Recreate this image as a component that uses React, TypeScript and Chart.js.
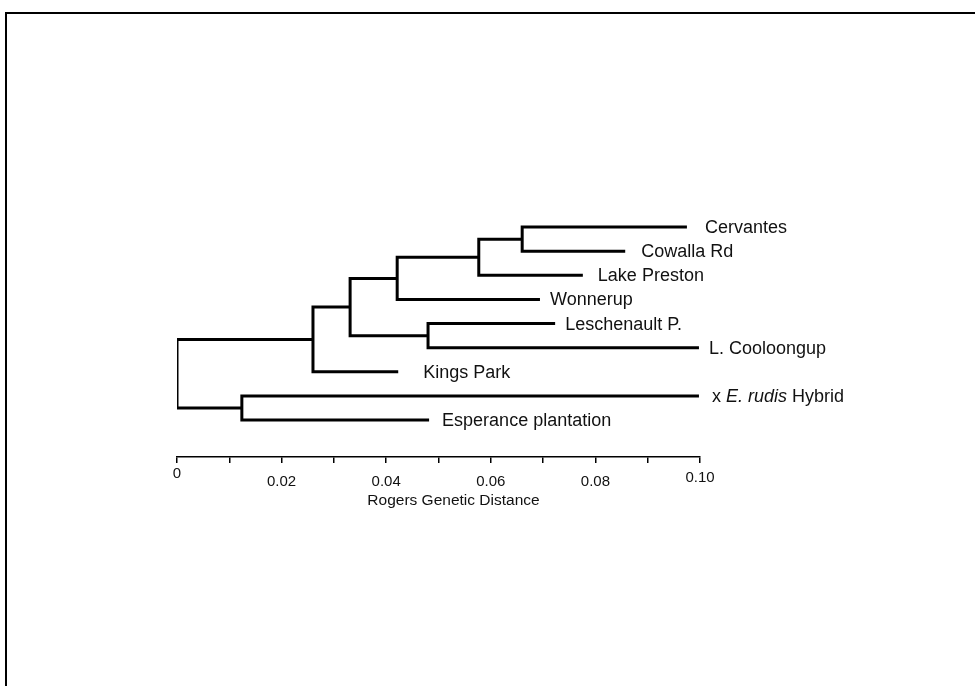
import React, { useEffect, useRef } from 'react';
import { Chart, registerables } from 'chart.js';

Chart.register(...registerables);

// ---- data ----
const leafNames = [
  'Cervantes',
  'Cowalla Rd',
  'Lake Preston',
  'Wonnerup',
  'Leschenault P.',
  'L. Cooloongup',
  'Kings Park',
  'x E. rudis Hybrid',
  'Esperance plantation',
];
const leafDistances = [0.0975, 0.0857, 0.0776, 0.0694, 0.0723, 0.0998, 0.0423, 0.0998, 0.0482];
// internal nodes (index 9 onward), each joining two earlier nodes
const mergeLeft = [0, 9, 10, 4, 11, 13, 7, 14];
const mergeRight = [1, 2, 3, 5, 12, 6, 8, 15];
const mergeDistances = [0.066, 0.0577, 0.0421, 0.048, 0.0331, 0.026, 0.0124, 0];
const tickValues = [0, 0.01, 0.02, 0.03, 0.04, 0.05, 0.06, 0.07, 0.08, 0.09, 0.1];
const tickLabels = ['0', '', '0.02', '', '0.04', '', '0.06', '', '0.08', '', '0.10'];
const axisTitle = 'Rogers Genetic Distance';
const italicPhrase = 'E. rudis';

// ---- styles ----
const FONT = '"Liberation Sans", Arial, Helvetica, sans-serif';
const labelGaps = [18, 16, 15, 10, 10, 10, 25, 13, 13];
const tickLineHeights = [0.2, 1.2, 1.2, 1.2, 1.2, 1.2, 1.2, 1.2, 1.2, 1.2, 0.67];

function buildDatasets() {
  const nodeX: number[] = [...leafDistances];
  const nodeY: number[] = leafNames.map((_, i) => i);
  const datasets: any[] = [];
  mergeLeft.forEach((a, k) => {
    const b = mergeRight[k];
    const d = mergeDistances[k];
    datasets.push({
      data: [
        { x: nodeX[a], y: nodeY[a] },
        { x: d, y: nodeY[a] },
        { x: d, y: nodeY[b] },
        { x: nodeX[b], y: nodeY[b] },
      ],
      showLine: true,
      borderColor: '#000',
      borderWidth: 3,
      pointRadius: 0,
      pointHoverRadius: 0,
      tension: 0,
      fill: false,
      borderJoinStyle: 'miter',
      borderCapStyle: 'butt',
    });
    nodeX.push(d);
    nodeY.push((nodeY[a] + nodeY[b]) / 2);
  });
  return datasets;
}

const labelPlugin = {
  id: 'leafLabels',
  afterDatasetsDraw(chart: any) {
    const { ctx, chartArea } = chart;
    const x = chart.scales.x;
    const y = chart.scales.y;
    ctx.save();
    ctx.fillStyle = '#111';
    ctx.textBaseline = 'middle';
    ctx.textAlign = 'left';
    leafNames.forEach((name, i) => {
      let px = x.getPixelForValue(leafDistances[i]) + labelGaps[i];
      const py = y.getPixelForValue(i) + 1;
      const idx = name.indexOf(italicPhrase);
      const parts: [string, boolean][] =
        idx >= 0
          ? [
              [name.slice(0, idx), false],
              [italicPhrase, true],
              [name.slice(idx + italicPhrase.length), false],
            ]
          : [[name, false]];
      parts.forEach(([t, it]) => {
        ctx.font = `${it ? 'italic ' : ''}18px ${FONT}`;
        ctx.fillText(t, px, py);
        px += ctx.measureText(t).width;
      });
    });
    ctx.font = `15.5px ${FONT}`;
    ctx.textAlign = 'center';
    ctx.fillText(axisTitle, (chartArea.left + chartArea.right) / 2 + 15, chartArea.bottom + 44);
    ctx.restore();
  },
};

export default function App() {
  const canvasRef = useRef<HTMLCanvasElement | null>(null);

  useEffect(() => {
    if (!canvasRef.current) return;
    const chart = new Chart(canvasRef.current, {
      type: 'scatter',
      data: { datasets: buildDatasets() },
      options: {
        responsive: false,
        animation: false,
        devicePixelRatio: 1,
        layout: { padding: { left: 177, right: 275, top: 203, bottom: 0 } },
        plugins: { legend: { display: false }, tooltip: { enabled: false } },
        events: [],
        scales: {
          x: {
            type: 'linear',
            position: 'bottom',
            min: 0,
            max: 0.1,
            afterBuildTicks: (s: any) => {
              s.ticks = tickValues.map((v) => ({ value: v }));
            },
            afterFit: (s: any) => {
              s.height = 229;
            },
            ticks: {
              autoSkip: false,
              maxRotation: 0,
              minRotation: 0,
              padding: 9.5,
              color: '#111',
              callback: (_v: any, i: number) => tickLabels[i],
              font: (ctx: any) => ({ family: FONT, size: 15, lineHeight: tickLineHeights[ctx.index] ?? 1.2 }),
            },
            grid: {
              drawOnChartArea: false,
              drawTicks: true,
              tickLength: 6,
              color: '#000',
              lineWidth: 1.5,
            },
            border: { display: true, color: '#000', width: 1.5 },
          },
          y: {
            type: 'linear',
            reverse: true,
            min: -1,
            max: 9.53,
            display: false,
          },
        },
      } as any,
      plugins: [labelPlugin],
    });
    return () => chart.destroy();
  }, []);

  return (
    <div
      style={{
        position: 'fixed',
        left: 0,
        top: 0,
        width: 975,
        height: 686,
        overflow: 'hidden',
        background: '#fff',
      }}
    >
      <canvas ref={canvasRef} width={975} height={686} style={{ display: 'block', width: 975, height: 686 }} />
      <div
        style={{
          position: 'absolute',
          left: 5,
          top: 12,
          width: 1200,
          height: 1200,
          borderLeft: '2px solid #000',
          borderTop: '2px solid #000',
          pointerEvents: 'none',
        }}
      />
    </div>
  );
}
